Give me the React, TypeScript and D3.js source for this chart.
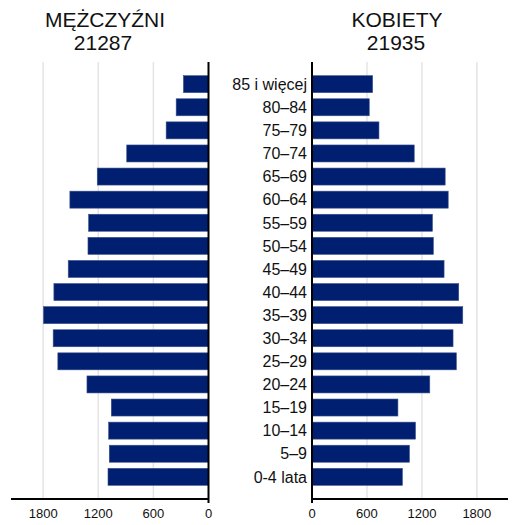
import { scaleBand, scaleLinear } from "d3";

const ageGroups = [
  "85 i więcej",
  "80–84",
  "75–79",
  "70–74",
  "65–69",
  "60–64",
  "55–59",
  "50–54",
  "45–49",
  "40–44",
  "35–39",
  "30–34",
  "25–29",
  "20–24",
  "15–19",
  "10–14",
  "5–9",
  "0-4 lata",
];

const men = [273, 352, 461, 890, 1211, 1509, 1305, 1312, 1527, 1683, 1796, 1691, 1640, 1323, 1058, 1087, 1080, 1094];
const women = [662, 625, 731, 1116, 1454, 1487, 1315, 1325, 1442, 1602, 1646, 1540, 1576, 1286, 938, 1130, 1064, 987];

const tickValues = [0, 600, 1200, 1800];
const titles = { men: "MĘŻCZYŹNI", women: "KOBIETY" };
const totals = { men: "21287", women: "21935" };

const W = 518;
const H = 525;
const top = 62;
const bottom = 499;
const barColor = "#001f71";
const font = "'Liberation Sans', Arial, sans-serif";

export default function App() {
  const xLeft = scaleLinear().domain([0, 2150]).range([208.5, 11]);
  const xRight = scaleLinear().domain([0, 2140]).range([312, 508]);
  const y = scaleBand<string>()
    .domain(ageGroups)
    .range([top, bottom])
    .paddingInner(0.264)
    .paddingOuter(0.592);

  return (
    <svg
      width={W}
      height={H}
      style={{ position: "absolute", left: 0, top: 0, background: "#fff" }}
      fontFamily={font}
    >
      {/* grid */}
      {tickValues.slice(1).map((t) => (
        <g key={"g" + t}>
          <line x1={xLeft(t)} x2={xLeft(t)} y1={top} y2={bottom} stroke="#e4e4e4" strokeWidth={1.5} />
          <line x1={xRight(t)} x2={xRight(t)} y1={top} y2={bottom} stroke="#e4e4e4" strokeWidth={1.5} />
        </g>
      ))}

      {/* bars */}
      {ageGroups.map((a, i) => (
        <g key={a}>
          <rect
            x={xLeft(men[i])}
            y={y(a)}
            width={xLeft(0) - xLeft(men[i])}
            height={y.bandwidth()}
            fill={barColor}
            stroke="#3b4f8c"
            strokeWidth={0.6}
          />
          <rect
            x={xRight(0)}
            y={y(a)}
            width={xRight(women[i]) - xRight(0)}
            height={y.bandwidth()}
            fill={barColor}
            stroke="#3b4f8c"
            strokeWidth={0.6}
          />
          <text
            x={307}
            y={(y(a) ?? 0) + y.bandwidth() / 2}
            dy="0.36em"
            textAnchor="end"
            fontSize={16}
            fill="#111"
          >
            {a}
          </text>
        </g>
      ))}

      {/* axes */}
      <line x1={xLeft(0)} x2={xLeft(0)} y1={top} y2={bottom + 4} stroke="#000" strokeWidth={2} />
      <line x1={xRight(0)} x2={xRight(0)} y1={top} y2={bottom + 4} stroke="#000" strokeWidth={2} />
      <line x1={11} x2={xLeft(0)} y1={bottom} y2={bottom} stroke="#000" strokeWidth={2} />
      <line x1={xRight(0)} x2={508} y1={bottom} y2={bottom} stroke="#000" strokeWidth={2} />

      {tickValues.map((t) => (
        <g key={"t" + t} fontSize={13} fill="#111" textAnchor="middle">
          <text x={xLeft(t)} y={518}>
            {t}
          </text>
          <text x={xRight(t)} y={518}>
            {t}
          </text>
        </g>
      ))}

      {/* titles */}
      <g fontSize={21} fill="#111" textAnchor="middle">
        <text x={105} y={27}>
          {titles.men}
        </text>
        <text x={103} y={50}>
          {totals.men}
        </text>
        <text x={397} y={27}>
          {titles.women}
        </text>
        <text x={396} y={50}>
          {totals.women}
        </text>
      </g>
    </svg>
  );
}
